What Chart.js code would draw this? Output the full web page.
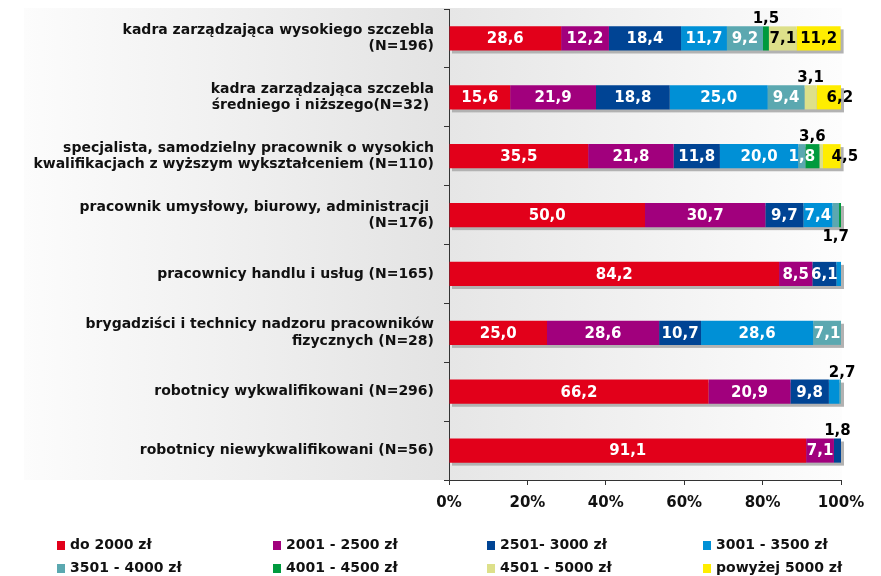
<!DOCTYPE html>
<html>
<head>
<meta charset="utf-8">
<script src="https://cdn.jsdelivr.net/npm/chart.js@4"></script>
<style>
  body { margin: 0; background: #fff; }
  #wrap { position: relative; width: 881px; height: 576px; }
  #legend { position: absolute; left: 0; top: 0; width: 881px; height: 576px; pointer-events: none;
            font: bold 14px "DejaVu Sans", Verdana, sans-serif; color: #111; }
  .lg-item { position: absolute; white-space: nowrap; line-height: 16px; }
  .lg-box { display: inline-block; width: 8px; height: 9px; margin-right: 5px; vertical-align: -1px; }
</style>
</head>
<body>
<div id="wrap">
  <canvas id="chart" width="881" height="576"></canvas>
  <div id="legend"></div>
</div>
<script>
// Categories (y axis)
const categories = [
    ['kadra zarządzająca wysokiego szczebla', '(N=196)'],
    ['kadra zarządzająca szczebla', 'średniego i niższego(N=32) '],
    ['specjalista, samodzielny pracownik o wysokich', 'kwalifikacjach z wyższym wykształceniem (N=110)'],
    ['pracownik umysłowy, biurowy, administracji ', '(N=176)'],
    'pracownicy handlu i usług (N=165)',
    ['brygadziści i technicy nadzoru pracowników', 'fizycznych (N=28)'],
    'robotnicy wykwalifikowani (N=296)',
    'robotnicy niewykwalifikowani (N=56)'
];

// Series names
const seriesNames = [
    'do 2000 zł', '2001 - 2500 zł', '2501- 3000 zł', '3001 - 3500 zł',
    '3501 - 4000 zł', '4001 - 4500 zł', '4501 - 5000 zł', 'powyżej 5000 zł'
];

// Series values (percent, one per category)
const do2000   = [28.6, 15.6, 35.5, 50.0, 84.2, 25.0, 66.2, 91.1];
const s2001    = [12.2, 21.9, 21.8, 30.7,  8.5, 28.6, 20.9,  7.1];
const s2501    = [18.4, 18.8, 11.8,  9.7,  6.1, 10.7,  9.8,  1.8];
const s3001    = [11.7, 25.0, 20.0,  7.4,  1.2, 28.6,  2.7,  0];
const s3501    = [ 9.2,  9.4,  1.8,  1.7,  0,    7.1,  0.4,  0];
const s4001    = [ 1.5,  0,    3.6,  0.5,  0,    0,    0,    0];
const s4501    = [ 7.1,  3.1,  0.9,  0,    0,    0,    0,    0];
const above5000 = [11.2, 6.2,  4.5,  0,    0,    0,    0,    0];
const seriesValues = [do2000, s2001, s2501, s3001, s3501, s4001, s4501, above5000];

// X axis ticks
const xTicks = [0, 20, 40, 60, 80, 100];

const seriesColors = ['#e2001a', '#a1007d', '#004494', '#0090d6', '#5ba8b0', '#009a3e', '#dde08a', '#ffed00'];
const darkText = [false, false, false, false, false, false, true, true];

// Label placement overrides "row,series" -> {pos, dx}
const labelPlacement = {
    '0,5': { pos: 'above' },
    '1,6': { pos: 'above' },
    '1,7': { pos: 'inside', dx: 11 },
    '2,5': { pos: 'above' },
    '2,6': { pos: 'none' },
    '2,7': { pos: 'inside', dx: 13 },
    '3,4': { pos: 'below' },
    '3,5': { pos: 'none' },
    '4,3': { pos: 'none' },
    '6,3': { pos: 'above', dx: 8 },
    '6,4': { pos: 'none' },
    '7,2': { pos: 'above' }
};

const FONT = '"DejaVu Sans", Verdana, sans-serif';

// Background gradients behind labels and plot area
const backgroundPlugin = {
    id: 'bgGradient',
    beforeDraw(chart) {
        const { ctx, chartArea: a } = chart;
        ctx.save();
        let g = ctx.createLinearGradient(24, 0, a.left, 0);
        g.addColorStop(0, '#fcfcfc');
        g.addColorStop(1, '#e3e3e3');
        ctx.fillStyle = g;
        ctx.fillRect(24, a.top - 1, a.left - 24, a.bottom - a.top + 1);
        g = ctx.createLinearGradient(a.left, 0, a.right, 0);
        g.addColorStop(0, '#e6e6e6');
        g.addColorStop(1, '#fdfdfd');
        ctx.fillStyle = g;
        ctx.fillRect(a.left, a.top - 1, a.right - a.left + 1, a.bottom - a.top + 1);
        ctx.restore();
    }
};

// Gray drop shadow under each stacked bar
const shadowPlugin = {
    id: 'barShadow',
    beforeDatasetsDraw(chart) {
        const { ctx } = chart;
        const xScale = chart.scales.x;
        const meta = chart.getDatasetMeta(0);
        ctx.save();
        ctx.fillStyle = '#b2b2b2';
        meta.data.forEach((el, i) => {
            const total = seriesValues.reduce((s, arr) => s + arr[i], 0);
            const x0 = xScale.getPixelForValue(0);
            const x1 = xScale.getPixelForValue(Math.min(total, 100));
            const top = el.y - el.height / 2;
            ctx.fillRect(x0 + 3, top + 3, x1 - x0, el.height);
        });
        ctx.restore();
    }
};

// Value labels
const labelPlugin = {
    id: 'valueLabels',
    afterDatasetsDraw(chart) {
        const { ctx } = chart;
        ctx.save();
        ctx.font = 'bold 15px ' + FONT;
        ctx.textAlign = 'center';
        ctx.textBaseline = 'middle';
        chart.data.datasets.forEach((ds, si) => {
            const meta = chart.getDatasetMeta(si);
            meta.data.forEach((el, ri) => {
                const v = ds.data[ri];
                if (!v) return;
                const p = labelPlacement[ri + ',' + si] || { pos: 'inside' };
                if (p.pos === 'none') return;
                const text = v.toFixed(1).replace('.', ',');
                let x = (el.x + el.base) / 2 + (p.dx || 0);
                let y = el.y + 1;
                ctx.fillStyle = darkText[si] ? '#000' : '#fff';
                if (p.pos === 'above') {
                    y = el.y - el.height / 2 - 7;
                    ctx.fillStyle = '#000';
                } else if (p.pos === 'below') {
                    y = el.y + el.height / 2 + 10;
                    ctx.fillStyle = '#000';
                }
                ctx.fillText(text, x, y);
            });
        });
        ctx.restore();
    }
};

const datasets = seriesNames.map((name, i) => ({
    label: name,
    data: seriesValues[i],
    backgroundColor: seriesColors[i],
    borderWidth: 0,
    barPercentage: 0.82,
    categoryPercentage: 0.5
}));

const ctx = document.getElementById('chart').getContext('2d');
const myChart = new Chart(ctx, {
    type: 'bar',
    data: { labels: categories, datasets: datasets },
    options: {
        indexAxis: 'y',
        responsive: false,
        animation: false,
        layout: { padding: { left: 0, right: 40, top: 9, bottom: 56 } },
        plugins: {
            legend: { display: false },
            tooltip: { enabled: false }
        },
        scales: {
            x: {
                stacked: true,
                min: 0,
                max: 100,
                afterBuildTicks(scale) {
                    scale.ticks = xTicks.map(v => ({ value: v }));
                },
                afterFit(scale) { scale.height = 40; },
                ticks: {
                    callback: v => v + '%',
                    color: '#111',
                    padding: 9,
                    maxRotation: 0,
                    font: { family: FONT, size: 15, weight: 'bold' }
                },
                grid: { drawOnChartArea: false, drawTicks: true, tickLength: 5, color: '#333' },
                border: { display: true, color: '#333', width: 1 }
            },
            y: {
                stacked: true,
                afterFit(scale) {
                    scale.width = 449;
                    scale.paddingTop = 0;
                    scale.paddingBottom = 0;
                },
                ticks: {
                    color: '#111',
                    padding: 10,
                    font: { family: FONT, size: 14, weight: 'bold', lineHeight: 1.15 }
                },
                grid: { drawOnChartArea: false, drawTicks: true, tickLength: 5, offset: true, color: '#333' },
                border: { display: true, color: '#333', width: 1 }
            }
        }
    },
    plugins: [backgroundPlugin, shadowPlugin, labelPlugin]
});

// HTML legend, 4 columns x 2 rows
const legendEl = document.getElementById('legend');
const colX = [57, 273, 487, 703];
const rowY = [536, 559];
seriesNames.forEach((name, i) => {
    const item = document.createElement('div');
    item.className = 'lg-item';
    item.style.left = colX[i % 4] + 'px';
    item.style.top = rowY[Math.floor(i / 4)] + 'px';
    item.innerHTML = '<span class="lg-box" style="background:' + seriesColors[i] + '"></span>' + name;
    legendEl.appendChild(item);
});
</script>
</body>
</html>
